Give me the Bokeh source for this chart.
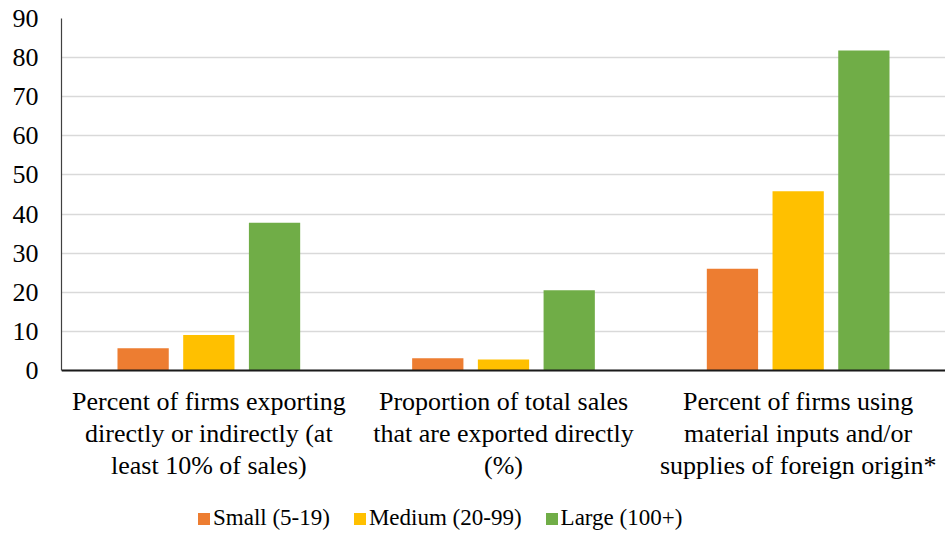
from bokeh.plotting import figure
from bokeh.models import ColumnDataSource, FactorRange, Legend, LegendItem, Label, Span
from bokeh.transform import dodge
from bokeh.embed import file_html
from bokeh.resources import INLINE

categories = [
    "Percent of firms exporting\ndirectly or indirectly (at\nleast 10% of sales)",
    "Proportion of total sales\nthat are exported directly\n(%)",
    "Percent of firms using\nmaterial inputs and/or\nsupplies of foreign origin*",
]
small = [5.7, 3.1, 26.0]
medium = [9.1, 2.8, 45.8]
large = [37.8, 20.5, 81.8]
series_names = ["Small (5-19)", "Medium (20-99)", "Large (100+)"]
colors = ["#ED7D31", "#FFC000", "#70AD47"]
y_ticks = [0, 10, 20, 30, 40, 50, 60, 70, 80, 90]

FONT = "'Liberation Serif', 'Times New Roman', serif"

source = ColumnDataSource(data=dict(cat=categories, small=small, medium=medium, large=large))

# the frame runs down to the bottom of the page so that the category texts
# and the legend can sit under the zero line inside it
p = figure(
    width=945, height=535,
    x_range=FactorRange(*categories, range_padding=0),
    y_range=(-42.2, 90),
    output_backend="svg", toolbar_location=None,
    min_border_left=61, min_border_right=0, min_border_top=18, min_border_bottom=0,
)
p.outline_line_color = None
p.background_fill_color = "white"

renderers = []
for col, off, color in zip(["small", "medium", "large"], [-0.223, 0.0, 0.223], colors):
    r = p.vbar(x=dodge("cat", off, range=p.x_range), top=col, bottom=0, width=0.174,
               source=source, fill_color=color, line_color=None)
    renderers.append(r)

p.xaxis.visible = False
p.xgrid.grid_line_color = None
p.ygrid.grid_line_color = "#D9D9D9"
p.ygrid.grid_line_width = 1.5
p.yaxis.ticker = y_ticks
p.yaxis.bounds = (0, 90)

p.yaxis.axis_line_color = "#404040"
p.yaxis.axis_line_width = 1.2
p.yaxis.major_tick_line_color = None
p.yaxis.minor_tick_line_color = None
p.yaxis.major_label_standoff = 17
p.yaxis.major_label_text_font = FONT
p.yaxis.major_label_text_font_size = "26px"
p.yaxis.major_label_text_color = "#000000"

# category baseline
p.add_layout(Span(location=0, dimension="width", line_color="#1a1a1a", line_width=2))

# category labels centered under each group
# (a FactorRange places factor i at synthetic coordinate i + 0.5)
for i, cat in enumerate(categories):
    p.add_layout(Label(
        x=i + 0.5, y=-4.2, text=cat,
        text_align="center", text_baseline="top",
        text_font=FONT, text_font_size="26px", text_color="#000000",
        text_line_height=1.11,
    ))

legend = Legend(
    items=[LegendItem(label=n, renderers=[r]) for n, r in zip(series_names, renderers)],
    orientation="horizontal",
    location=(135, 4),
    border_line_color=None,
    background_fill_alpha=0,
    glyph_width=15, glyph_height=15,
    label_standoff=2, spacing=22, padding=0, margin=0,
    label_text_font=FONT, label_text_font_size="23px", label_text_color="#000000",
)
p.add_layout(legend, "center")

open("out.html", "w").write(file_html(p, INLINE))
